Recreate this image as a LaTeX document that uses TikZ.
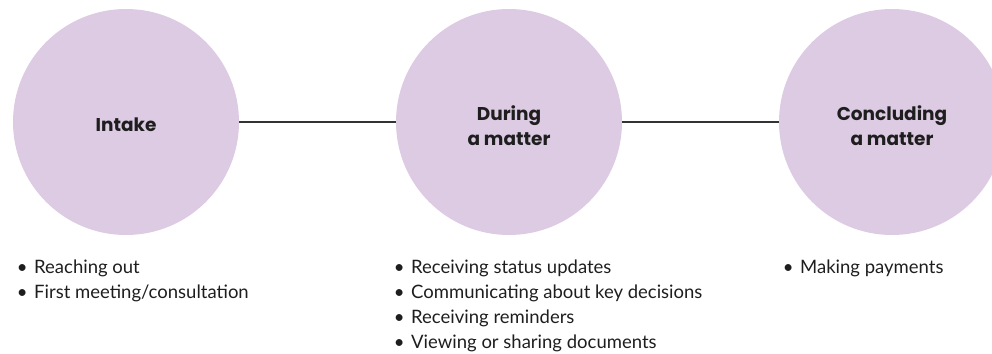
\documentclass[tikz,border=0pt]{standalone}
\usepackage{fontspec}
\setmainfont{Lato}
\newfontfamily\headfont{Poppins}
\definecolor{phasefill}{HTML}{DDCBE4}
\definecolor{inkdark}{HTML}{1E1E1E}
\definecolor{linkgrey}{HTML}{333333}
\newcommand\bul{\llap{\textbullet\hspace{6.5pt}}}
\begin{document}
\begin{tikzpicture}[x=1pt,y=-1pt,
  phase/.style={circle,fill=phasefill,draw=none,minimum size=226pt,inner sep=0pt},
  phaselabel/.style={text=inkdark,align=center,font=\headfont\bfseries\fontsize{18.5}{25}\selectfont},
  item/.style={anchor=base west,inner sep=0pt,text=inkdark,font=\fontsize{18.5}{25}\selectfont},
  link/.style={draw=linkgrey,line width=1.3pt}]
  \useasboundingbox (0,0) rectangle (992,353);
  \clip (0,0) rectangle (992,353);

  % phase circles
  \node[phase] (intake) at (126,122) {};
  \node[phase] (during) at (509,122) {};
  \node[phase] (conclude) at (892,122) {};

  % connectors between phases
  \draw[link] (intake.east) -- (during.west);
  \draw[link] (during.east) -- (conclude.west);

  % phase titles
  \node[phaselabel] (tintake) at (126,125) {Intake};
  \node[phaselabel] (tduring) at (509,126) {During\\a matter};
  \node[phaselabel] (tconclude) at (892,126) {Concluding\\a matter};

  % activities per phase
  \node[item] (i1) at (34,273) {\bul Reaching out};
  \node[item] (i2) at (34,298) {\bul First meeting/consultation};

  \node[item] (d1) at (411,273) {\bul Receiving status updates};
  \node[item] (d2) at (411,298) {\bul Communicating about key decisions};
  \node[item] (d3) at (411,323) {\bul Receiving reminders};
  \node[item] (d4) at (411,348) {\bul Viewing or sharing documents};

  \node[item] (c1) at (800,273) {\bul Making payments};
\end{tikzpicture}
\end{document}
